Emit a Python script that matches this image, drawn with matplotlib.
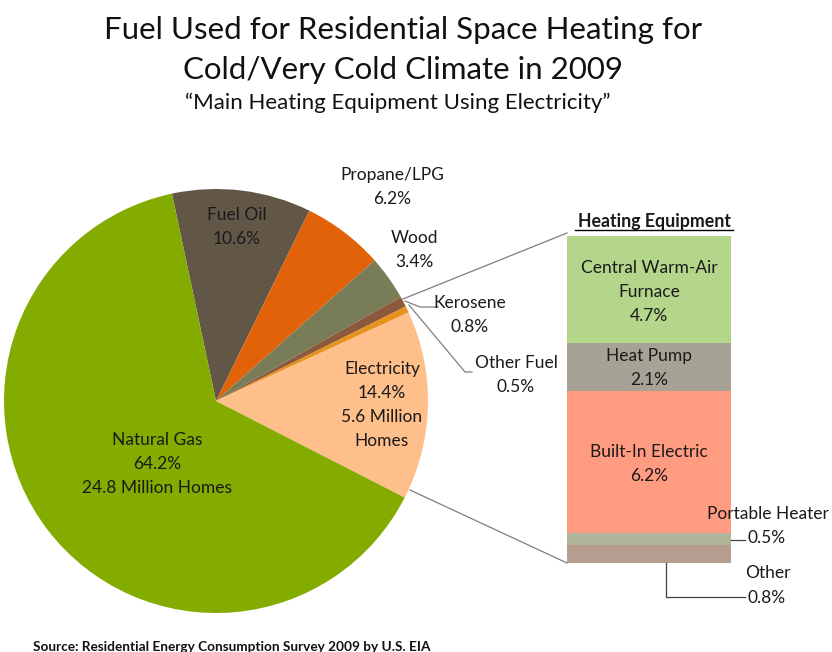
import matplotlib
matplotlib.use("Agg")
import matplotlib.pyplot as plt
import numpy as np

plt.rcParams['font.family'] = ['Lato', 'DejaVu Sans']

# ---- data ----
fuel_labels = ["Fuel Oil", "Propane/LPG", "Wood", "Kerosene", "Other Fuel", "Electricity", "Natural Gas"]
fuel_values = [10.6, 6.2, 3.4, 0.8, 0.5, 14.4, 64.2]
fuel_colors = ["#625747", "#E2620A", "#787D57", "#8C5A3A", "#E8921E", "#FFBF8A", "#84AB00"]

equip_labels = ["Other", "Portable Heater", "Built-In Electric", "Heat Pump", "Central Warm-Air\nFurnace"]
equip_values = [0.8, 0.5, 6.2, 2.1, 4.7]
equip_colors = ["#B59E90", "#B2B49A", "#FF9B80", "#A6A396", "#B3D68A"]

W, H = 832, 652
fig = plt.figure(figsize=(W / 100, H / 100), dpi=100)

# ---- stacked bar (drawn beneath the annotation layer) ----
bx = fig.add_axes([567 / W, 89 / H, 164 / W, 327 / H])
total = sum(equip_values)
bottom = 0
for lab, v, c in zip(equip_labels, equip_values, equip_colors):
    bx.bar(0, v, bottom=bottom, width=1.0, color=c, edgecolor=c, linewidth=0)
    bottom += v
bx.set_xlim(-0.5, 0.5)
bx.set_ylim(0, total)
bx.axis('off')

ax = fig.add_axes([0, 0, 1, 1])
ax.set_zorder(2)
cx, cy, R = 216, H - 401, 212
wedges, _ = ax.pie(fuel_values, colors=fuel_colors, startangle=102, counterclock=False,
                   center=(cx, cy), radius=R, frame=True,
                   wedgeprops=dict(linewidth=0))
ax.set_xlim(0, W)
ax.set_ylim(0, H)
ax.set_aspect('equal')
ax.axis('off')

fs = 12.5
LS = 1.62
def T(x, y, s, ha='center', size=fs, **kw):
    ax.text(x, H - y, s, ha=ha, va='center', fontsize=size, linespacing=LS,
            color="#1a1a1a", **kw)

T(157, 464, "Natural Gas\n64.2%\n24.8 Million Homes")
T(237, 227, "Fuel Oil\n10.6%")
T(392, 187, "Propane/LPG\n6.2%")
T(414, 250, "Wood\n3.4%")
T(470, 315, "Kerosene\n0.8%")
T(516, 375, "Other Fuel\n0.5%")
T(382, 405, "Electricity\n14.4%\n5.6 Million\nHomes")

gray = "#7f7f7f"
# leader lines for small slices
ax.plot([405, 420, 438], [H - 301, H - 307, H - 307], color=gray, lw=0.9)
ax.plot([409, 465, 472], [H - 305, H - 372, H - 372], color=gray, lw=0.9)

# connector lines pie -> bar
ax.plot([403, 567], [H - 299, H - 233], color=gray, lw=0.9)
ax.plot([410, 567], [H - 490, H - 563], color=gray, lw=0.9)

T(649, 292, "Central Warm-Air\nFurnace\n4.7%")
T(649, 368, "Heat Pump\n2.1%")
T(649, 464, "Built-In Electric\n6.2%")
T(768, 514, "Portable Heater")
T(748, 538, "0.5%", ha='left')
ax.plot([731, 745], [H - 540, H - 540], color="#404040", lw=0.9)
T(768, 573, "Other")
T(748, 598, "0.8%", ha='left')
ax.plot([666, 666, 745], [H - 563, H - 597, H - 597], color="#404040", lw=0.9)

ax.text(654, H - 221, "Heating Equipment", ha='center', va='center',
        fontsize=12.8, fontweight='bold', color="#1a1a1a")
ax.plot([575, 733], [H - 230, H - 230], color="black", lw=1.0)

# titles
ax.text(403, H - 30, "Fuel Used for Residential Space Heating for", ha='center', va='center',
        fontsize=22.5, color="#111111")
ax.text(403, H - 70, "Cold/Very Cold Climate in 2009", ha='center', va='center',
        fontsize=22.5, color="#111111")
ax.text(398, H - 103, "\u201cMain Heating Equipment Using Electricity\u201d", ha='center', va='center',
        fontsize=16, color="#111111")

ax.text(33, H - 647, "Source: Residential Energy Consumption Survey 2009 by U.S. EIA",
        ha='left', va='center', fontsize=9.8, fontweight='bold', color="#111111")

fig.savefig("out.png", dpi=100)
